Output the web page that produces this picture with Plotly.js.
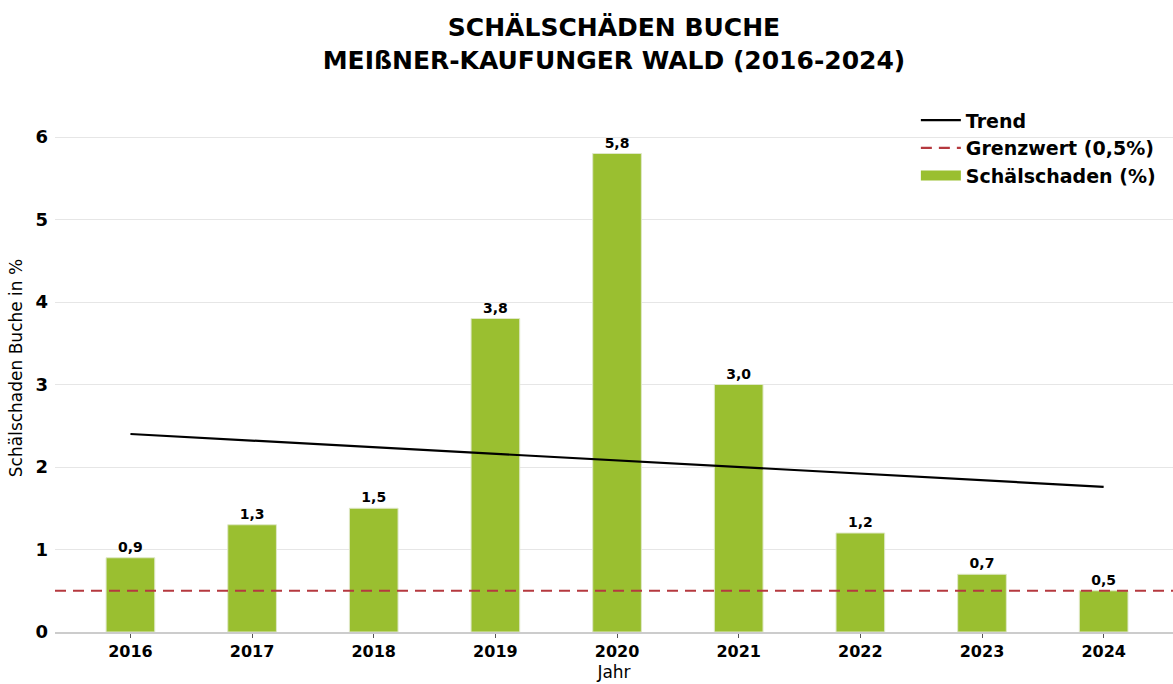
<!DOCTYPE html>
<html>
<head>
<meta charset="utf-8">
<script src="https://cdn.plot.ly/plotly-3.0.1.min.js"></script>
<style>html,body{margin:0;padding:0;background:#fff;}#chart{width:1173px;height:684px;}</style>
</head>
<body>
<div id="chart"></div>
<script>
const years = [2016, 2017, 2018, 2019, 2020, 2021, 2022, 2023, 2024];
const damage = [0.9, 1.3, 1.5, 3.8, 5.8, 3.0, 1.2, 0.7, 0.5];
const trendYears = [2016, 2024];
const trendValues = [2.40, 1.76];
const limitValue = 0.5;
const yTicks = [0, 1, 2, 3, 4, 5, 6];

const F = '"DejaVu Sans", Verdana, sans-serif';
const GREEN = '#9abf30';

const traces = [
  {
    type: 'scatter', mode: 'lines', name: 'Trend',
    x: trendYears, y: trendValues,
    line: {color: '#000000', width: 2.2},
    hoverinfo: 'skip'
  },
  {
    type: 'scatter', mode: 'lines', name: 'Grenzwert (0,5%)',
    x: [0, 1], y: [limitValue, limitValue], xaxis: 'x2',
    line: {color: '#b5393f', width: 2.2, dash: '11px,7px'},
    hoverinfo: 'skip'
  },
  {
    type: 'bar', name: 'Schälschaden (%)', showlegend: false,
    x: years, y: damage, width: 0.4,
    marker: {color: GREEN, line: {color: '#dfe8c8', width: 1}},
    texttemplate: '%{y:.1f}', textposition: 'outside', cliponaxis: false,
    textfont: {family: F, size: 14, color: '#000', weight: 'bold'},
    hoverinfo: 'skip'
  },
  {
    // legend entry for the bars (wide rectangle swatch), drawn outside the visible range
    type: 'scatter', mode: 'lines', name: 'Schälschaden (%)',
    x: [5, 6], y: [1, 1], xaxis: 'x2',
    line: {color: GREEN, width: 14},
    hoverinfo: 'skip'
  }
];

const layout = {
  width: 1173, height: 684,
  margin: {l: 55, r: 0, t: 104, b: 52},
  paper_bgcolor: '#fff', plot_bgcolor: '#fff',
  separators: ',.',
  font: {family: F, color: '#000'},
  showlegend: true,
  title: {
    text: 'SCHÄLSCHÄDEN BUCHE<br>MEIßNER-KAUFUNGER WALD (2016-2024)',
    font: {family: F, size: 25, color: '#000', weight: 'bold'},
    x: 0.5, xref: 'paper', xanchor: 'center',
    y: 1 - 36 / 684, yref: 'container', yanchor: 'middle'
  },
  xaxis: {
    range: [2015.38, 2024.57],
    tickmode: 'array', tickvals: years, ticktext: years.map(String),
    tickfont: {family: F, size: 16, color: '#000', weight: 'bold'},
    ticks: 'outside', ticklen: 4, tickcolor: '#555',
    showgrid: false, zeroline: false,
    showline: true, linecolor: '#cccccc', linewidth: 2,
    title: {text: 'Jahr', font: {family: F, size: 17, color: '#000'}, standoff: 6}
  },
  xaxis2: {
    range: [0, 1], overlaying: 'x', visible: false, fixedrange: true
  },
  yaxis: {
    range: [0, 6.4],
    tickmode: 'array', tickvals: yTicks, ticktext: yTicks.map(String),
    tickfont: {family: F, size: 18, color: '#000', weight: 'bold'},
    ticklabelstandoff: 6,
    showgrid: true, gridcolor: '#e6e6e6', gridwidth: 1,
    zeroline: false, showline: false, ticks: '',
    title: {text: 'Schälschaden Buche in %', font: {family: F, size: 17, color: '#000'}, standoff: 8}
  },
  legend: {
    x: 0.770, xanchor: 'left', y: 1.005, yanchor: 'top',
    font: {family: F, size: 19, color: '#000', weight: 'bold'},
    bgcolor: 'rgba(255,255,255,0)', borderwidth: 0,
    traceorder: 'normal', itemwidth: 40, tracegroupgap: 0
  },
  bargap: 0.6
};

Plotly.newPlot('chart', traces, layout, {displayModeBar: false, staticPlot: true});
</script>
</body>
</html>
